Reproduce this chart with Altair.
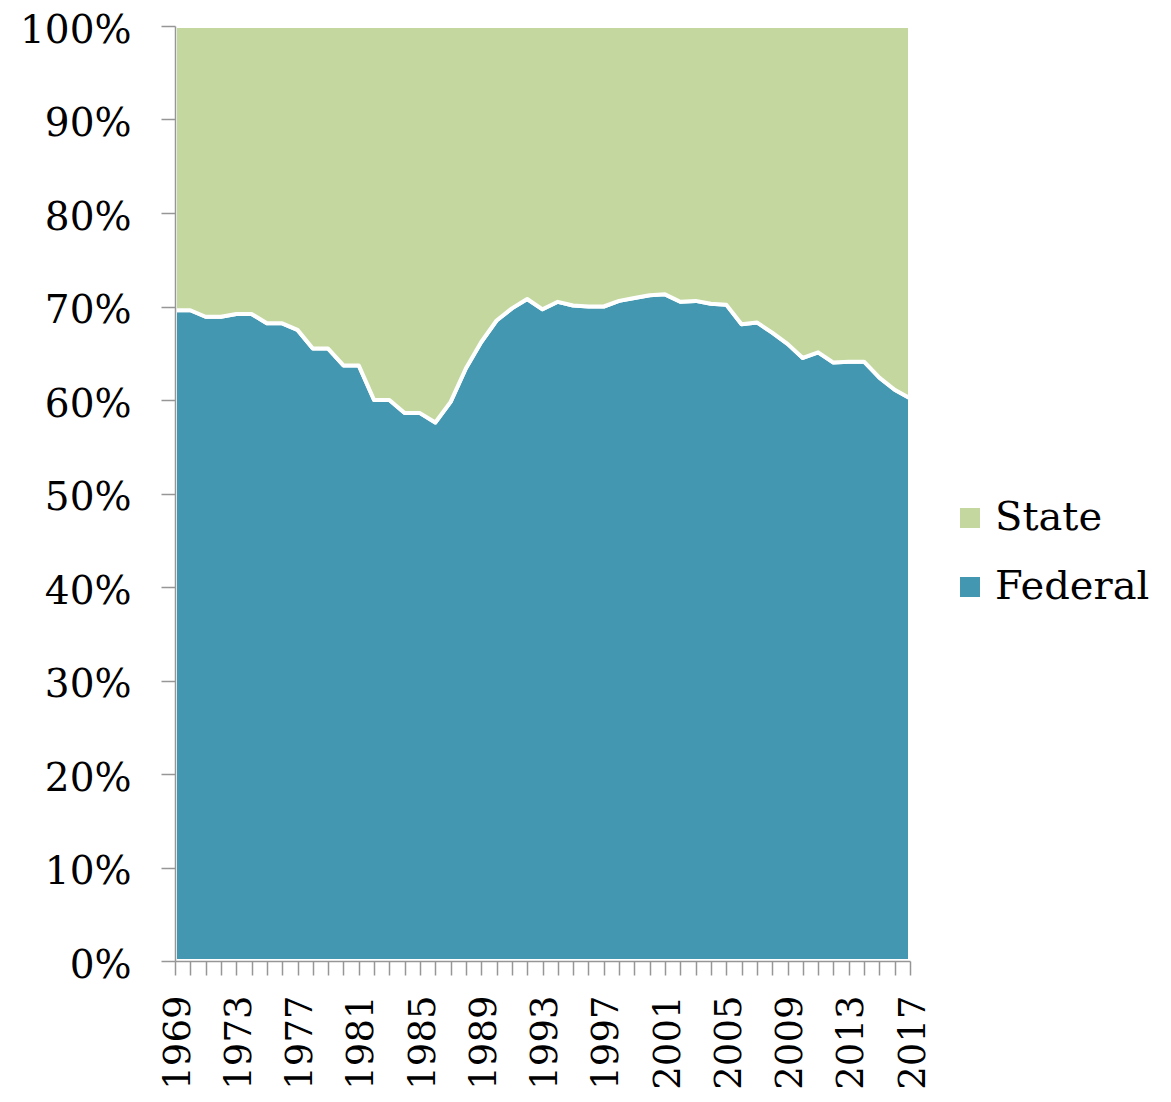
import altair as alt
import pandas as pd

years = list(range(1969, 2018))
federal_pct = [
    69.6, 69.6, 68.9, 68.9, 69.2, 69.2, 68.2, 68.2, 67.5, 65.5,
    65.5, 63.7, 63.7, 60.0, 60.0, 58.6, 58.6, 57.6, 59.8, 63.4,
    66.2, 68.5, 69.8, 70.8, 69.7, 70.5, 70.1, 70.0, 70.0, 70.6,
    70.9, 71.2, 71.3, 70.5, 70.6, 70.3, 70.2, 68.1, 68.3, 67.2,
    66.0, 64.5, 65.1, 64.0, 64.1, 64.1, 62.4, 61.1, 60.2,
]
series_names = ["State", "Federal"]
series_colors = ["#C4D79F", "#4397B0"]
y_ticks = [i / 10 for i in range(11)]

rows = []
for yr, f in zip(years, federal_pct):
    rows.append({"year": yr, "series": "Federal", "share": f / 100, "stackorder": 0})
    rows.append({"year": yr, "series": "State", "share": (100 - f) / 100, "stackorder": 1})
df = pd.DataFrame(rows)

FONT = "DejaVu Serif"
AXIS_GRAY = "#969696"

chart = (
    alt.Chart(df)
    .mark_area(stroke="white", strokeWidth=4, strokeJoin="round", interpolate="linear")
    .encode(
        x=alt.X(
            "year:Q",
            scale=alt.Scale(domain=[1969, 2017], nice=False, zero=False),
            axis=alt.Axis(
                title=None,
                values=years,
                labelExpr="(datum.value - 1969) % 4 === 0 ? toString(datum.value) : ''",
                labelAngle=270,
                labelAlign="right",
                labelBaseline="middle",
                labelPadding=20,
                labelOffset=3,
                labelOverlap=False,
                labelFlush=False,
                labelFont=FONT,
                labelFontSize=37,
                labelColor="black",
                tickSize=14,
                tickColor=AXIS_GRAY,
                tickWidth=1.5,
                domainColor=AXIS_GRAY,
                domainWidth=1.5,
                grid=False,
                zindex=1,
            ),
        ),
        y=alt.Y(
            "share:Q",
            stack="zero",
            scale=alt.Scale(domain=[0, 1], nice=False),
            axis=alt.Axis(
                title=None,
                values=y_ticks,
                format=".0%",
                labelPadding=30,
                labelOffset=4,
                labelFont=FONT,
                labelFontSize=39,
                labelColor="black",
                labelBaseline="middle",
                tickSize=14,
                tickColor=AXIS_GRAY,
                tickWidth=1.5,
                domainColor=AXIS_GRAY,
                domainWidth=1.5,
                grid=False,
                zindex=1,
            ),
        ),
        color=alt.Color(
            "series:N",
            scale=alt.Scale(domain=series_names, range=series_colors),
            legend=alt.Legend(
                title=None,
                orient="none",
                legendX=775,
                legendY=472,
                symbolType="square",
                symbolSize=400,
                symbolStrokeWidth=0,
                symbolOpacity=1,
                labelFont=FONT,
                labelFontSize=40,
                labelColor="black",
                labelOffset=5,
                labelLimit=400,
                rowPadding=29,
                padding=0,
            ),
        ),
        order=alt.Order("stackorder:Q"),
    )
    .properties(
        width=735,
        height=935,
        autosize=alt.AutoSizeParams(type="none"),
        padding={"left": 167, "top": 18, "right": 240, "bottom": 130},
    )
    .configure_view(stroke=None)
)

chart.save("out.html", embed_options={"renderer": "svg", "actions": False})
